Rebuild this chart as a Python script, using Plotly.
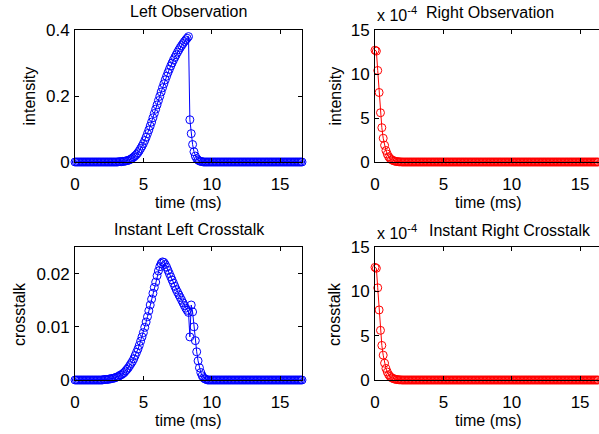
import plotly.graph_objects as go

# ---------------- data ----------------
time_ms = [
    0.0, 0.1, 0.2, 0.3, 0.4, 0.5, 0.6, 0.7, 0.8, 0.9,
    1.0, 1.1, 1.2, 1.3, 1.4, 1.5, 1.6, 1.7, 1.8, 1.9,
    2.0, 2.1, 2.2, 2.3, 2.4, 2.5, 2.6, 2.7, 2.8, 2.9,
    3.0, 3.1, 3.2, 3.3, 3.4, 3.5, 3.6, 3.7, 3.8, 3.9,
    4.0, 4.1, 4.2, 4.3, 4.4, 4.5, 4.6, 4.7, 4.8, 4.9,
    5.0, 5.1, 5.2, 5.3, 5.4, 5.5, 5.6, 5.7, 5.8, 5.9,
    6.0, 6.1, 6.2, 6.3, 6.4, 6.5, 6.6, 6.7, 6.8, 6.9,
    7.0, 7.1, 7.2, 7.3, 7.4, 7.5, 7.6, 7.7, 7.8, 7.9,
    8.0, 8.1, 8.2, 8.3, 8.4, 8.5, 8.6, 8.7, 8.8, 8.9,
    9.0, 9.1, 9.2, 9.3, 9.4, 9.5, 9.6, 9.7, 9.8, 9.9,
    10.0, 10.1, 10.2, 10.3, 10.4, 10.5, 10.6, 10.7, 10.8, 10.9,
    11.0, 11.1, 11.2, 11.3, 11.4, 11.5, 11.6, 11.7, 11.8, 11.9,
    12.0, 12.1, 12.2, 12.3, 12.4, 12.5, 12.6, 12.7, 12.8, 12.9,
    13.0, 13.1, 13.2, 13.3, 13.4, 13.5, 13.6, 13.7, 13.8, 13.9,
    14.0, 14.1, 14.2, 14.3, 14.4, 14.5, 14.6, 14.7, 14.8, 14.9,
    15.0, 15.1, 15.2, 15.3, 15.4, 15.5, 15.6, 15.7, 15.8, 15.9,
    16.0, 16.1, 16.2, 16.3, 16.4, 16.5, 16.6,
]

left_observation = [
    0, 0, 0, 0, 0, 0, 0, 0, 0, 0,
    0, 0, 0, 0, 0, 0, 0, 0, 0, 0,
    0, 0, 0, 0, 0, 0, 0, 0, 0, 0,
    0.000, 0.000, 0.001, 0.001, 0.001, 0.002, 0.002, 0.003, 0.004, 0.005,
    0.007, 0.009, 0.012, 0.015, 0.019, 0.023, 0.028, 0.034, 0.041, 0.048,
    0.056, 0.065, 0.075, 0.086, 0.097, 0.109, 0.121, 0.134, 0.147, 0.160,
    0.173, 0.186, 0.199, 0.212, 0.225, 0.237, 0.249, 0.260, 0.271, 0.281,
    0.291, 0.300, 0.309, 0.317, 0.325, 0.333, 0.340, 0.347, 0.353, 0.359,
    0.365, 0.370, 0.375, 0.380, 0.128, 0.086, 0.053, 0.031, 0.018, 0.010,
    0.006, 0.003, 0.002, 0.001, 0, 0, 0, 0, 0, 0,
    0, 0, 0, 0, 0, 0, 0, 0, 0, 0,
    0, 0, 0, 0, 0, 0, 0, 0, 0, 0,
    0, 0, 0, 0, 0, 0, 0, 0, 0, 0,
    0, 0, 0, 0, 0, 0, 0, 0, 0, 0,
    0, 0, 0, 0, 0, 0, 0, 0, 0, 0,
    0, 0, 0, 0, 0, 0, 0, 0, 0, 0,
    0, 0, 0, 0, 0, 0, 0,
]

# values in units of 1e-4 (as shown on the axis)
right_observation = [
    12.7, 12.6, 10.4, 7.9, 5.6, 3.9, 2.7, 1.9, 1.3, 0.9,
    0.6, 0.4, 0.27, 0.18, 0.12, 0.08, 0.05, 0.03, 0.02, 0.01,
    0, 0, 0, 0, 0, 0, 0, 0, 0, 0,
    0, 0, 0, 0, 0, 0, 0, 0, 0, 0,
    0, 0, 0, 0, 0, 0, 0, 0, 0, 0,
    0, 0, 0, 0, 0, 0, 0, 0, 0, 0,
    0, 0, 0, 0, 0, 0, 0, 0, 0, 0,
    0, 0, 0, 0, 0, 0, 0, 0, 0, 0,
    0, 0, 0, 0, 0, 0, 0, 0, 0, 0,
    0, 0, 0, 0, 0, 0, 0, 0, 0, 0,
    0, 0, 0, 0, 0, 0, 0, 0, 0, 0,
    0, 0, 0, 0, 0, 0, 0, 0, 0, 0,
    0, 0, 0, 0, 0, 0, 0, 0, 0, 0,
    0, 0, 0, 0, 0, 0, 0, 0, 0, 0,
    0, 0, 0, 0, 0, 0, 0, 0, 0, 0,
    0, 0, 0, 0, 0, 0, 0, 0, 0, 0,
    0, 0, 0, 0, 0, 0, 0,
]

left_crosstalk = [
    0, 0, 0, 0, 0, 0, 0, 0, 0, 0,
    0, 0, 0, 0, 0, 0, 0, 0, 0, 0,
    0.0000, 0.0001, 0.0001, 0.0001, 0.0001, 0.0002, 0.0002, 0.0003, 0.0003, 0.0004,
    0.0005, 0.0006, 0.0007, 0.0009, 0.0010, 0.0012, 0.0014, 0.0017, 0.0020, 0.0023,
    0.0027, 0.0031, 0.0035, 0.0040, 0.0046, 0.0052, 0.0058, 0.0065, 0.0073, 0.0081,
    0.0089, 0.0099, 0.0109, 0.0119, 0.0130, 0.0141, 0.0152, 0.0163, 0.0174, 0.0184,
    0.0196, 0.0205, 0.0213, 0.0219, 0.0222, 0.0221, 0.0217, 0.0212, 0.0206, 0.0200,
    0.0194, 0.0188, 0.0182, 0.0176, 0.0170, 0.0165, 0.0160, 0.0155, 0.0150, 0.0145,
    0.0140, 0.0135, 0.0131, 0.0127, 0.0081, 0.0141, 0.0128, 0.0100, 0.0074, 0.0053,
    0.0036, 0.0023, 0.0014, 0.0008, 0.0004, 0.0002, 0.0001, 0, 0, 0,
    0, 0, 0, 0, 0, 0, 0, 0, 0, 0,
    0, 0, 0, 0, 0, 0, 0, 0, 0, 0,
    0, 0, 0, 0, 0, 0, 0, 0, 0, 0,
    0, 0, 0, 0, 0, 0, 0, 0, 0, 0,
    0, 0, 0, 0, 0, 0, 0, 0, 0, 0,
    0, 0, 0, 0, 0, 0, 0, 0, 0, 0,
    0, 0, 0, 0, 0, 0, 0,
]

# values in units of 1e-4 (as shown on the axis)
right_crosstalk = [
    12.7, 12.6, 10.4, 7.9, 5.6, 3.9, 2.8, 1.9, 1.3, 0.9,
    0.6, 0.4, 0.27, 0.18, 0.12, 0.08, 0.05, 0.03, 0.02, 0.01,
    0, 0, 0, 0, 0, 0, 0, 0, 0, 0,
    0, 0, 0, 0, 0, 0, 0, 0, 0, 0,
    0, 0, 0, 0, 0, 0, 0, 0, 0, 0,
    0, 0, 0, 0, 0, 0, 0, 0, 0, 0,
    0, 0, 0, 0, 0, 0, 0, 0, 0, 0,
    0, 0, 0, 0, 0, 0, 0, 0, 0, 0,
    0, 0, 0, 0, 0, 0, 0, 0, 0, 0,
    0, 0, 0, 0, 0, 0, 0, 0, 0, 0,
    0, 0, 0, 0, 0, 0, 0, 0, 0, 0,
    0, 0, 0, 0, 0, 0, 0, 0, 0, 0,
    0, 0, 0, 0, 0, 0, 0, 0, 0, 0,
    0, 0, 0, 0, 0, 0, 0, 0, 0, 0,
    0, 0, 0, 0, 0, 0, 0, 0, 0, 0,
    0, 0, 0, 0, 0, 0, 0, 0, 0, 0,
    0, 0, 0, 0, 0, 0, 0,
]

x_ticks = [0, 5, 10, 15]
obs_left_ticks = [0, 0.2, 0.4]
obs_left_ticktext = ["0", "0.2", "0.4"]
xt_left_ticks = [0, 0.01, 0.02]
xt_left_ticktext = ["0", "0.01", "0.02"]
right_ticks = [0, 5, 10, 15]

titles = ["Left Observation", "Right Observation",
          "Instant Left Crosstalk", "Instant Right Crosstalk"]
y_labels = ["intensity", "intensity", "crosstalk", "crosstalk"]
x_label = "time (ms)"

# ---------------- figure ----------------
W, H = 599, 434
FONT = "Liberation Sans, Arial, Helvetica, sans-serif"
BLUE = "#0000ff"
RED = "#ff0000"

def px_x(p):
    return p / W

def px_y(p):
    return 1 - p / H

fig = go.Figure()

series = [
    (left_observation, BLUE, "x", "y"),
    (right_observation, RED, "x2", "y2"),
    (left_crosstalk, BLUE, "x3", "y3"),
    (right_crosstalk, RED, "x4", "y4"),
]
for vals, col, xa, ya in series:
    fig.add_trace(go.Scatter(
        x=time_ms, y=vals, xaxis=xa, yaxis=ya, mode="lines+markers",
        line=dict(color=col, width=1),
        marker=dict(symbol="circle-open", size=8, color=col, line=dict(width=1, color=col)),
        cliponaxis=False, showlegend=False, hoverinfo="skip",
    ))

left_dom = [px_x(75), px_x(302)]
right_dom = [px_x(375), 1.0]
top_dom = [px_y(162), px_y(30)]
bot_dom = [px_y(380), px_y(247)]

def xax(dom, anchor, rng, mirror):
    return dict(domain=dom, anchor=anchor, range=rng, tickvals=x_ticks,
                showline=True, linecolor="black", linewidth=1, mirror=mirror,
                ticks="inside", ticklen=4, tickcolor="black", tickwidth=1,
                showgrid=False, zeroline=False, ticklabelstandoff=7, automargin=False,
                tickfont=dict(family=FONT, size=17, color="black"), fixedrange=True)

def yax(dom, anchor, rng, tv, tt, mirror):
    return dict(domain=dom, anchor=anchor, range=rng, tickvals=tv, ticktext=tt,
                showline=True, linecolor="black", linewidth=1, mirror=mirror,
                ticks="inside", ticklen=4, tickcolor="black", tickwidth=1,
                showgrid=False, zeroline=False, ticklabelstandoff=1, automargin=False,
                tickfont=dict(family=FONT, size=17, color="black"), fixedrange=True)

x_left_range = [0, 16.6]
x_right_range = [0, 16.6 * (599 - 375) / (302 - 75)]

fig.update_layout(
    template="none",
    width=W, height=H, autosize=False,
    margin=dict(l=0, r=0, t=0, b=0, pad=0, autoexpand=False),
    paper_bgcolor="white", plot_bgcolor="white",
    font=dict(family=FONT, color="black"),
    xaxis=xax(left_dom, "y", x_left_range, "ticks"),
    yaxis=yax(top_dom, "x", [0, 0.4], obs_left_ticks, obs_left_ticktext, "ticks"),
    xaxis2=xax(right_dom, "y2", x_right_range, "ticks"),
    yaxis2=yax(top_dom, "x2", [0, 15], right_ticks, [str(v) for v in right_ticks], False),
    xaxis3=xax(left_dom, "y3", x_left_range, "ticks"),
    yaxis3=yax(bot_dom, "x3", [0, 0.025], xt_left_ticks, xt_left_ticktext, "ticks"),
    xaxis4=xax(right_dom, "y4", x_right_range, "ticks"),
    yaxis4=yax(bot_dom, "x4", [0, 15], right_ticks, [str(v) for v in right_ticks], False),
)

ann = []
def text(t, x, y, size=16, angle=0, xanchor="center"):
    ann.append(dict(text=t, x=px_x(x), y=px_y(y), xref="paper", yref="paper",
                    showarrow=False, xanchor=xanchor, yanchor="middle",
                    textangle=angle, font=dict(family=FONT, size=size, color="black")))

# titles
text(titles[0], 188.5, 11.5)
text(titles[1], 490, 12.5)
text(titles[2], 189, 229.5)
text(titles[3], 510, 230)
# exponent labels
text("x 10<sup>-4</sup>", 375, 14, xanchor="left")
text("x 10<sup>-4</sup>", 375, 232, xanchor="left")
# x labels
text(x_label, 188, 202)
text(x_label, 488, 202)
text(x_label, 188, 420)
text(x_label, 488, 420)
# y labels
text(y_labels[0], 28.5, 96, angle=-90)
text(y_labels[1], 334.5, 96, angle=-90)
text(y_labels[2], 19, 314, angle=-90)
text(y_labels[3], 334, 314, angle=-90)

fig.update_layout(annotations=ann)
fig.write_html("out.html",
               config={"displayModeBar": False, "staticPlot": True},
               post_script="document.body.style.margin='0';document.body.style.overflow='hidden';")
